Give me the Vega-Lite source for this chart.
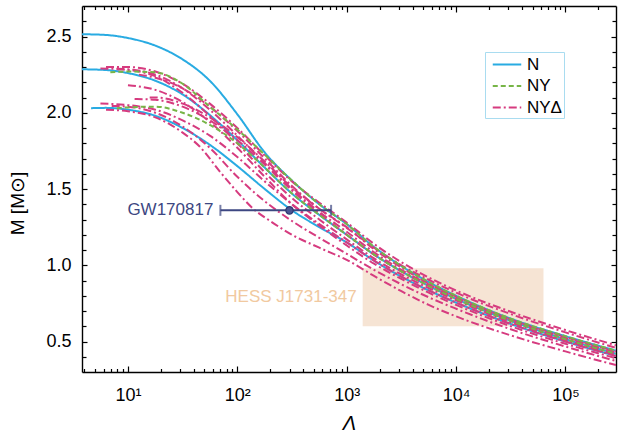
{
"$schema":"https://vega.github.io/schema/vega-lite/v6.json",
"width":534,"height":366,
"autosize":{"type":"none"},
"padding":{"left":82,"top":6,"right":2,"bottom":67},
"background":"white",
"config":{"view":{"stroke":null},"font":"Liberation Sans",
 "axis":{"grid":false,"domainColor":"#000","domainWidth":1.4,"tickColor":"#000","tickWidth":1.2,"labelColor":"#000","labelFontSize":18,"labelFont":"Liberation Sans","titleFont":"Liberation Sans","titleColor":"#000","titleFontWeight":"normal"}},
"datasets":{
"curves":[
{"c":"N1","t":"N","L":3.8,"M":2.515},{"c":"N1","t":"N","L":6.3,"M":2.51},{"c":"N1","t":"N","L":10,"M":2.49},{"c":"N1","t":"N","L":17.8,"M":2.44},{"c":"N1","t":"N","L":31.6,"M":2.35},{"c":"N1","t":"N","L":56,"M":2.21},{"c":"N1","t":"N","L":100,"M":1.99},{"c":"N1","t":"N","L":178,"M":1.74},{"c":"N1","t":"N","L":316,"M":1.555},{"c":"N1","t":"N","L":562,"M":1.40},{"c":"N1","t":"N","L":1000,"M":1.27},{"c":"N1","t":"N","L":1778,"M":1.12},{"c":"N1","t":"N","L":3162,"M":0.995},{"c":"N1","t":"N","L":5623,"M":0.89},{"c":"N1","t":"N","L":10000,"M":0.80},{"c":"N1","t":"N","L":31623,"M":0.65},{"c":"N1","t":"N","L":100000,"M":0.535},{"c":"N1","t":"N","L":290000,"M":0.44},
{"c":"N2","t":"N","L":3.8,"M":2.285},{"c":"N2","t":"N","L":6.3,"M":2.28},{"c":"N2","t":"N","L":10,"M":2.26},{"c":"N2","t":"N","L":17.8,"M":2.21},{"c":"N2","t":"N","L":31.6,"M":2.12},{"c":"N2","t":"N","L":56,"M":1.985},{"c":"N2","t":"N","L":100,"M":1.82},{"c":"N2","t":"N","L":178,"M":1.64},{"c":"N2","t":"N","L":316,"M":1.47},{"c":"N2","t":"N","L":562,"M":1.33},{"c":"N2","t":"N","L":1000,"M":1.2},{"c":"N2","t":"N","L":1778,"M":1.07},{"c":"N2","t":"N","L":3162,"M":0.96},{"c":"N2","t":"N","L":5623,"M":0.865},{"c":"N2","t":"N","L":10000,"M":0.78},{"c":"N2","t":"N","L":31623,"M":0.635},{"c":"N2","t":"N","L":100000,"M":0.515},{"c":"N2","t":"N","L":290000,"M":0.42},
{"c":"N3","t":"N","L":4.6,"M":2.03},{"c":"N3","t":"N","L":6.3,"M":2.032},{"c":"N3","t":"N","L":10,"M":2.02},{"c":"N3","t":"N","L":17.8,"M":1.98},{"c":"N3","t":"N","L":31.6,"M":1.90},{"c":"N3","t":"N","L":56,"M":1.79},{"c":"N3","t":"N","L":100,"M":1.65},{"c":"N3","t":"N","L":178,"M":1.50},{"c":"N3","t":"N","L":316,"M":1.36},{"c":"N3","t":"N","L":562,"M":1.25},{"c":"N3","t":"N","L":1000,"M":1.15},{"c":"N3","t":"N","L":1778,"M":1.03},{"c":"N3","t":"N","L":3162,"M":0.925},{"c":"N3","t":"N","L":5623,"M":0.835},{"c":"N3","t":"N","L":10000,"M":0.755},{"c":"N3","t":"N","L":31623,"M":0.615},{"c":"N3","t":"N","L":100000,"M":0.50},{"c":"N3","t":"N","L":290000,"M":0.405},
{"c":"D1","t":"NYΔ","L":5.6,"M":2.29},{"c":"D1","t":"NYΔ","L":10,"M":2.285},{"c":"D1","t":"NYΔ","L":17.8,"M":2.25},{"c":"D1","t":"NYΔ","L":31.6,"M":2.16},{"c":"D1","t":"NYΔ","L":56,"M":2.02},{"c":"D1","t":"NYΔ","L":100,"M":1.85},{"c":"D1","t":"NYΔ","L":178,"M":1.67},{"c":"D1","t":"NYΔ","L":316,"M":1.50},{"c":"D1","t":"NYΔ","L":562,"M":1.35},{"c":"D1","t":"NYΔ","L":1000,"M":1.22},{"c":"D1","t":"NYΔ","L":1778,"M":1.085},{"c":"D1","t":"NYΔ","L":3162,"M":0.97},{"c":"D1","t":"NYΔ","L":5623,"M":0.875},{"c":"D1","t":"NYΔ","L":10000,"M":0.79},{"c":"D1","t":"NYΔ","L":31623,"M":0.645},{"c":"D1","t":"NYΔ","L":100000,"M":0.525},{"c":"D1","t":"NYΔ","L":290000,"M":0.43},
{"c":"D2","t":"NYΔ","L":7.9,"M":2.285},{"c":"D2","t":"NYΔ","L":10,"M":2.28},{"c":"D2","t":"NYΔ","L":17.8,"M":2.24},{"c":"D2","t":"NYΔ","L":31.6,"M":2.13},{"c":"D2","t":"NYΔ","L":56,"M":1.98},{"c":"D2","t":"NYΔ","L":100,"M":1.80},{"c":"D2","t":"NYΔ","L":178,"M":1.61},{"c":"D2","t":"NYΔ","L":316,"M":1.44},{"c":"D2","t":"NYΔ","L":562,"M":1.30},{"c":"D2","t":"NYΔ","L":1000,"M":1.17},{"c":"D2","t":"NYΔ","L":1778,"M":1.045},{"c":"D2","t":"NYΔ","L":3162,"M":0.94},{"c":"D2","t":"NYΔ","L":5623,"M":0.85},{"c":"D2","t":"NYΔ","L":10000,"M":0.77},{"c":"D2","t":"NYΔ","L":31623,"M":0.625},{"c":"D2","t":"NYΔ","L":100000,"M":0.505},{"c":"D2","t":"NYΔ","L":290000,"M":0.41},
{"c":"D3","t":"NYΔ","L":12.6,"M":2.25},{"c":"D3","t":"NYΔ","L":17.8,"M":2.23},{"c":"D3","t":"NYΔ","L":31.6,"M":2.16},{"c":"D3","t":"NYΔ","L":56,"M":2.04},{"c":"D3","t":"NYΔ","L":100,"M":1.88},{"c":"D3","t":"NYΔ","L":178,"M":1.70},{"c":"D3","t":"NYΔ","L":316,"M":1.52},{"c":"D3","t":"NYΔ","L":562,"M":1.37},{"c":"D3","t":"NYΔ","L":1000,"M":1.25},{"c":"D3","t":"NYΔ","L":1778,"M":1.105},{"c":"D3","t":"NYΔ","L":3162,"M":0.985},{"c":"D3","t":"NYΔ","L":5623,"M":0.88},{"c":"D3","t":"NYΔ","L":10000,"M":0.795},{"c":"D3","t":"NYΔ","L":31623,"M":0.645},{"c":"D3","t":"NYΔ","L":100000,"M":0.53},{"c":"D3","t":"NYΔ","L":290000,"M":0.435},
{"c":"D4","t":"NYΔ","L":10,"M":2.18},{"c":"D4","t":"NYΔ","L":17.8,"M":2.15},{"c":"D4","t":"NYΔ","L":31.6,"M":2.07},{"c":"D4","t":"NYΔ","L":56,"M":1.94},{"c":"D4","t":"NYΔ","L":100,"M":1.77},{"c":"D4","t":"NYΔ","L":178,"M":1.58},{"c":"D4","t":"NYΔ","L":316,"M":1.40},{"c":"D4","t":"NYΔ","L":562,"M":1.26},{"c":"D4","t":"NYΔ","L":1000,"M":1.13},{"c":"D4","t":"NYΔ","L":1778,"M":1.01},{"c":"D4","t":"NYΔ","L":3162,"M":0.91},{"c":"D4","t":"NYΔ","L":5623,"M":0.82},{"c":"D4","t":"NYΔ","L":10000,"M":0.74},{"c":"D4","t":"NYΔ","L":31623,"M":0.60},{"c":"D4","t":"NYΔ","L":100000,"M":0.485},{"c":"D4","t":"NYΔ","L":290000,"M":0.39},
{"c":"D5","t":"NYΔ","L":11.5,"M":2.09},{"c":"D5","t":"NYΔ","L":17.8,"M":2.085},{"c":"D5","t":"NYΔ","L":31.6,"M":2.04},{"c":"D5","t":"NYΔ","L":56,"M":1.95},{"c":"D5","t":"NYΔ","L":100,"M":1.82},{"c":"D5","t":"NYΔ","L":178,"M":1.66},{"c":"D5","t":"NYΔ","L":316,"M":1.49},{"c":"D5","t":"NYΔ","L":562,"M":1.34},{"c":"D5","t":"NYΔ","L":1000,"M":1.2},{"c":"D5","t":"NYΔ","L":1778,"M":1.07},{"c":"D5","t":"NYΔ","L":3162,"M":0.96},{"c":"D5","t":"NYΔ","L":5623,"M":0.865},{"c":"D5","t":"NYΔ","L":10000,"M":0.78},{"c":"D5","t":"NYΔ","L":31623,"M":0.635},{"c":"D5","t":"NYΔ","L":100000,"M":0.515},{"c":"D5","t":"NYΔ","L":290000,"M":0.42},
{"c":"D6","t":"NYΔ","L":5.6,"M":2.06},{"c":"D6","t":"NYΔ","L":10,"M":2.05},{"c":"D6","t":"NYΔ","L":17.8,"M":2.02},{"c":"D6","t":"NYΔ","L":31.6,"M":1.95},{"c":"D6","t":"NYΔ","L":56,"M":1.85},{"c":"D6","t":"NYΔ","L":100,"M":1.71},{"c":"D6","t":"NYΔ","L":178,"M":1.55},{"c":"D6","t":"NYΔ","L":316,"M":1.40},{"c":"D6","t":"NYΔ","L":562,"M":1.27},{"c":"D6","t":"NYΔ","L":1000,"M":1.15},{"c":"D6","t":"NYΔ","L":1778,"M":1.03},{"c":"D6","t":"NYΔ","L":3162,"M":0.925},{"c":"D6","t":"NYΔ","L":5623,"M":0.835},{"c":"D6","t":"NYΔ","L":10000,"M":0.755},{"c":"D6","t":"NYΔ","L":31623,"M":0.615},{"c":"D6","t":"NYΔ","L":100000,"M":0.50},{"c":"D6","t":"NYΔ","L":290000,"M":0.405},
{"c":"D7","t":"NYΔ","L":7.1,"M":2.045},{"c":"D7","t":"NYΔ","L":10,"M":2.04},{"c":"D7","t":"NYΔ","L":17.8,"M":2.0},{"c":"D7","t":"NYΔ","L":31.6,"M":1.91},{"c":"D7","t":"NYΔ","L":56,"M":1.77},{"c":"D7","t":"NYΔ","L":100,"M":1.58},{"c":"D7","t":"NYΔ","L":178,"M":1.42},{"c":"D7","t":"NYΔ","L":316,"M":1.29},{"c":"D7","t":"NYΔ","L":562,"M":1.18},{"c":"D7","t":"NYΔ","L":1000,"M":1.075},{"c":"D7","t":"NYΔ","L":1778,"M":0.97},{"c":"D7","t":"NYΔ","L":3162,"M":0.875},{"c":"D7","t":"NYΔ","L":5623,"M":0.79},{"c":"D7","t":"NYΔ","L":10000,"M":0.715},{"c":"D7","t":"NYΔ","L":31623,"M":0.58},{"c":"D7","t":"NYΔ","L":100000,"M":0.467},{"c":"D7","t":"NYΔ","L":290000,"M":0.372},
{"c":"D8","t":"NYΔ","L":6.3,"M":2.02},{"c":"D8","t":"NYΔ","L":10,"M":2.01},{"c":"D8","t":"NYΔ","L":17.8,"M":1.97},{"c":"D8","t":"NYΔ","L":31.6,"M":1.87},{"c":"D8","t":"NYΔ","L":45,"M":1.78},{"c":"D8","t":"NYΔ","L":70,"M":1.61},{"c":"D8","t":"NYΔ","L":100,"M":1.48},{"c":"D8","t":"NYΔ","L":140,"M":1.37},{"c":"D8","t":"NYΔ","L":200,"M":1.29},{"c":"D8","t":"NYΔ","L":316,"M":1.20},{"c":"D8","t":"NYΔ","L":562,"M":1.115},{"c":"D8","t":"NYΔ","L":1000,"M":1.035},{"c":"D8","t":"NYΔ","L":1778,"M":0.93},{"c":"D8","t":"NYΔ","L":3162,"M":0.83},{"c":"D8","t":"NYΔ","L":5623,"M":0.74},{"c":"D8","t":"NYΔ","L":10000,"M":0.665},{"c":"D8","t":"NYΔ","L":31623,"M":0.54},{"c":"D8","t":"NYΔ","L":100000,"M":0.435},{"c":"D8","t":"NYΔ","L":290000,"M":0.345},
{"c":"D9","t":"NYΔ","L":6.3,"M":2.30},{"c":"D9","t":"NYΔ","L":10,"M":2.30},{"c":"D9","t":"NYΔ","L":17.8,"M":2.27},{"c":"D9","t":"NYΔ","L":31.6,"M":2.19},{"c":"D9","t":"NYΔ","L":56,"M":2.06},{"c":"D9","t":"NYΔ","L":100,"M":1.90},{"c":"D9","t":"NYΔ","L":178,"M":1.72},{"c":"D9","t":"NYΔ","L":316,"M":1.55},{"c":"D9","t":"NYΔ","L":562,"M":1.41},{"c":"D9","t":"NYΔ","L":1000,"M":1.28},{"c":"D9","t":"NYΔ","L":1778,"M":1.14},{"c":"D9","t":"NYΔ","L":3162,"M":1.02},{"c":"D9","t":"NYΔ","L":5623,"M":0.92},{"c":"D9","t":"NYΔ","L":10000,"M":0.835},{"c":"D9","t":"NYΔ","L":31623,"M":0.695},{"c":"D9","t":"NYΔ","L":100000,"M":0.575},{"c":"D9","t":"NYΔ","L":290000,"M":0.475},
{"c":"D10","t":"NYΔ","L":15.8,"M":2.10},{"c":"D10","t":"NYΔ","L":17.8,"M":2.10},{"c":"D10","t":"NYΔ","L":31.6,"M":2.06},{"c":"D10","t":"NYΔ","L":56,"M":1.97},{"c":"D10","t":"NYΔ","L":100,"M":1.84},{"c":"D10","t":"NYΔ","L":178,"M":1.68},{"c":"D10","t":"NYΔ","L":316,"M":1.51},{"c":"D10","t":"NYΔ","L":562,"M":1.37},{"c":"D10","t":"NYΔ","L":1000,"M":1.245},{"c":"D10","t":"NYΔ","L":1778,"M":1.115},{"c":"D10","t":"NYΔ","L":3162,"M":1.0},{"c":"D10","t":"NYΔ","L":5623,"M":0.905},{"c":"D10","t":"NYΔ","L":10000,"M":0.82},{"c":"D10","t":"NYΔ","L":31623,"M":0.68},{"c":"D10","t":"NYΔ","L":100000,"M":0.56},{"c":"D10","t":"NYΔ","L":290000,"M":0.458},
{"c":"Y1","t":"NY","L":6.9,"M":2.265},{"c":"Y1","t":"NY","L":10,"M":2.27},{"c":"Y1","t":"NY","L":17.8,"M":2.265},{"c":"Y1","t":"NY","L":31.6,"M":2.19},{"c":"Y1","t":"NY","L":56,"M":2.04},{"c":"Y1","t":"NY","L":100,"M":1.89},{"c":"Y1","t":"NY","L":178,"M":1.725},{"c":"Y1","t":"NY","L":316,"M":1.555},{"c":"Y1","t":"NY","L":562,"M":1.40},{"c":"Y1","t":"NY","L":1000,"M":1.27},{"c":"Y1","t":"NY","L":1778,"M":1.12},{"c":"Y1","t":"NY","L":3162,"M":0.995},{"c":"Y1","t":"NY","L":5623,"M":0.89},{"c":"Y1","t":"NY","L":10000,"M":0.80},{"c":"Y1","t":"NY","L":31623,"M":0.65},{"c":"Y1","t":"NY","L":100000,"M":0.535},{"c":"Y1","t":"NY","L":290000,"M":0.44},
{"c":"Y2","t":"NY","L":7.9,"M":2.03},{"c":"Y2","t":"NY","L":10,"M":2.035},{"c":"Y2","t":"NY","L":17.8,"M":2.04},{"c":"Y2","t":"NY","L":31.6,"M":2.0},{"c":"Y2","t":"NY","L":56,"M":1.92},{"c":"Y2","t":"NY","L":100,"M":1.80},{"c":"Y2","t":"NY","L":178,"M":1.64},{"c":"Y2","t":"NY","L":316,"M":1.47},{"c":"Y2","t":"NY","L":562,"M":1.33},{"c":"Y2","t":"NY","L":1000,"M":1.2},{"c":"Y2","t":"NY","L":1778,"M":1.07},{"c":"Y2","t":"NY","L":3162,"M":0.96},{"c":"Y2","t":"NY","L":5623,"M":0.865},{"c":"Y2","t":"NY","L":10000,"M":0.78},{"c":"Y2","t":"NY","L":31623,"M":0.635},{"c":"Y2","t":"NY","L":100000,"M":0.515},{"c":"Y2","t":"NY","L":290000,"M":0.42}
],
"hess":[{"L1":1400,"L2":63000,"M1":0.6,"M2":0.98,"label":"HESS J1731-347","Mt":0.79}],
"gw":[{"L":300,"Llo":70,"Lhi":720,"M":1.36,"label":"GW170817"}],
"caps":[{"L":70,"M":1.36},{"L":720,"M":1.36}]
},
"layer":[
{"data":{"name":"hess"},"mark":{"type":"rect","color":"#f6e4d4"},
 "encoding":{
  "x":{"field":"L1","type":"quantitative","scale":{"type":"log","domain":[3.8,290000],"nice":false},
   "axis":{"orient":"bottom","values":[10,100,1000,10000,100000],"labelExpr":"'10' + (datum.value < 50 ? '¹' : datum.value < 500 ? '²' : datum.value < 5000 ? '³' : datum.value < 50000 ? '⁴' : '⁵')","tickSize":-6,"labelPadding":20,"title":"Λ","titleFontStyle":"italic","titleFontSize":20,"titlePadding":9,"domain":true}},
  "x2":{"field":"L2"},
  "y":{"field":"M1","type":"quantitative","scale":{"domain":[0.3,2.7],"nice":false,"zero":false},
   "axis":{"orient":"left","values":[0.5,1,1.5,2,2.5],"format":".1f","tickSize":-5,"labelPadding":16,"title":"M [M⊙]","titleFontSize":19,"titlePadding":18,"titleY":197,"domain":true}},
  "y2":{"field":"M2"}}},
{"data":{"name":"hess"},"mark":{"type":"text","align":"right","baseline":"middle","dx":-6,"fontSize":17,"color":"#f1c9a0","font":"Liberation Sans"},
 "encoding":{
  "x":{"field":"L1","type":"quantitative","scale":{"type":"log","domain":[3.8,290000],"nice":false},
   "axis":{"orient":"bottom","values":[4,5,6,7,8,9,20,30,40,50,60,70,80,90,200,300,400,500,600,700,800,900,2000,3000,4000,5000,6000,7000,8000,9000,20000,30000,40000,50000,60000,70000,80000,90000,200000],"tickSize":-3.5,"labels":false,"domain":false,"title":null}},
  "y":{"field":"Mt","type":"quantitative","scale":{"domain":[0.3,2.7],"nice":false,"zero":false},
   "axis":{"orient":"left","values":[0.4,0.6,0.7,0.8,0.9,1.1,1.2,1.3,1.4,1.6,1.7,1.8,1.9,2.1,2.2,2.3,2.4,2.6],"tickSize":-4,"labels":false,"domain":false,"title":null}},
  "text":{"field":"label"}}},
{"data":{"name":"curves"},"mark":{"type":"line","strokeWidth":2,"interpolate":"monotone","clip":true},
 "encoding":{
  "x":{"field":"L","type":"quantitative","scale":{"type":"log","domain":[3.8,290000],"nice":false},
   "axis":{"orient":"top","values":[10,100,1000,10000,100000],"tickSize":-6,"labels":false,"domain":true,"title":null}},
  "y":{"field":"M","type":"quantitative","scale":{"domain":[0.3,2.7],"nice":false,"zero":false},
   "axis":{"orient":"right","values":[0.5,1,1.5,2,2.5],"tickSize":-5,"labels":false,"domain":true,"title":null}},
  "detail":{"field":"c"},
  "color":{"field":"t","type":"nominal","scale":{"domain":["N","NY","NYΔ"],"range":["#29abe2","#77b547","#d63b7f"]},
   "legend":{"title":null,"orient":"none","legendX":403,"legendY":46,"symbolType":"M-0.5,0H2.5","symbolSize":361,"symbolStrokeWidth":2,"labelFontSize":17,"labelFont":"Liberation Sans","labelColor":"#000","fillColor":"white","strokeColor":"#a9dcf0","padding":2,"rowPadding":2.5,"labelOffset":19}},
  "strokeDash":{"field":"t","type":"nominal","scale":{"domain":["N","NY","NYΔ"],"range":[[1,0],[5,3],[8,3,2,3]]},
   "legend":{"title":null,"orient":"none","legendX":403,"legendY":46,"symbolType":"M-0.5,0H2.5","symbolSize":361,"symbolStrokeWidth":2,"labelFontSize":17,"labelFont":"Liberation Sans","labelColor":"#000","fillColor":"white","strokeColor":"#a9dcf0","padding":2,"rowPadding":2.5,"labelOffset":19}}}},
{"data":{"name":"gw"},"mark":{"type":"text","align":"right","baseline":"middle","dx":-7,"fontSize":17,"color":"#3d4782","font":"Liberation Sans"},
 "encoding":{
  "x":{"field":"Llo","type":"quantitative","scale":{"type":"log","domain":[3.8,290000],"nice":false},
   "axis":{"orient":"top","values":[4,5,6,7,8,9,20,30,40,50,60,70,80,90,200,300,400,500,600,700,800,900,2000,3000,4000,5000,6000,7000,8000,9000,20000,30000,40000,50000,60000,70000,80000,90000,200000],"tickSize":-3.5,"labels":false,"domain":false,"title":null}},
  "y":{"field":"M","type":"quantitative","scale":{"domain":[0.3,2.7],"nice":false,"zero":false},
   "axis":{"orient":"right","values":[0.4,0.6,0.7,0.8,0.9,1.1,1.2,1.3,1.4,1.6,1.7,1.8,1.9,2.1,2.2,2.3,2.4,2.6],"tickSize":-4,"labels":false,"domain":false,"title":null}},
  "text":{"field":"label"}}},
{"data":{"name":"gw"},"mark":{"type":"rule","color":"#3d4782","strokeWidth":2},
 "encoding":{"x":{"field":"Llo","type":"quantitative","axis":null},"x2":{"field":"Lhi"},"y":{"field":"M","type":"quantitative","axis":null}}},
{"data":{"name":"caps"},"mark":{"type":"tick","orient":"vertical","size":11,"thickness":2,"color":"#3d4782"},
 "encoding":{"x":{"field":"L","type":"quantitative","axis":null},"y":{"field":"M","type":"quantitative","axis":null}}},
{"data":{"name":"gw"},"mark":{"type":"point","filled":true,"size":55,"color":"#4b5592","stroke":"#2f3670","strokeWidth":1.2,"opacity":1},
 "encoding":{"x":{"field":"L","type":"quantitative","axis":null},"y":{"field":"M","type":"quantitative","axis":null}}}
],
"resolve":{"axis":{"x":"independent","y":"independent"}}
}
